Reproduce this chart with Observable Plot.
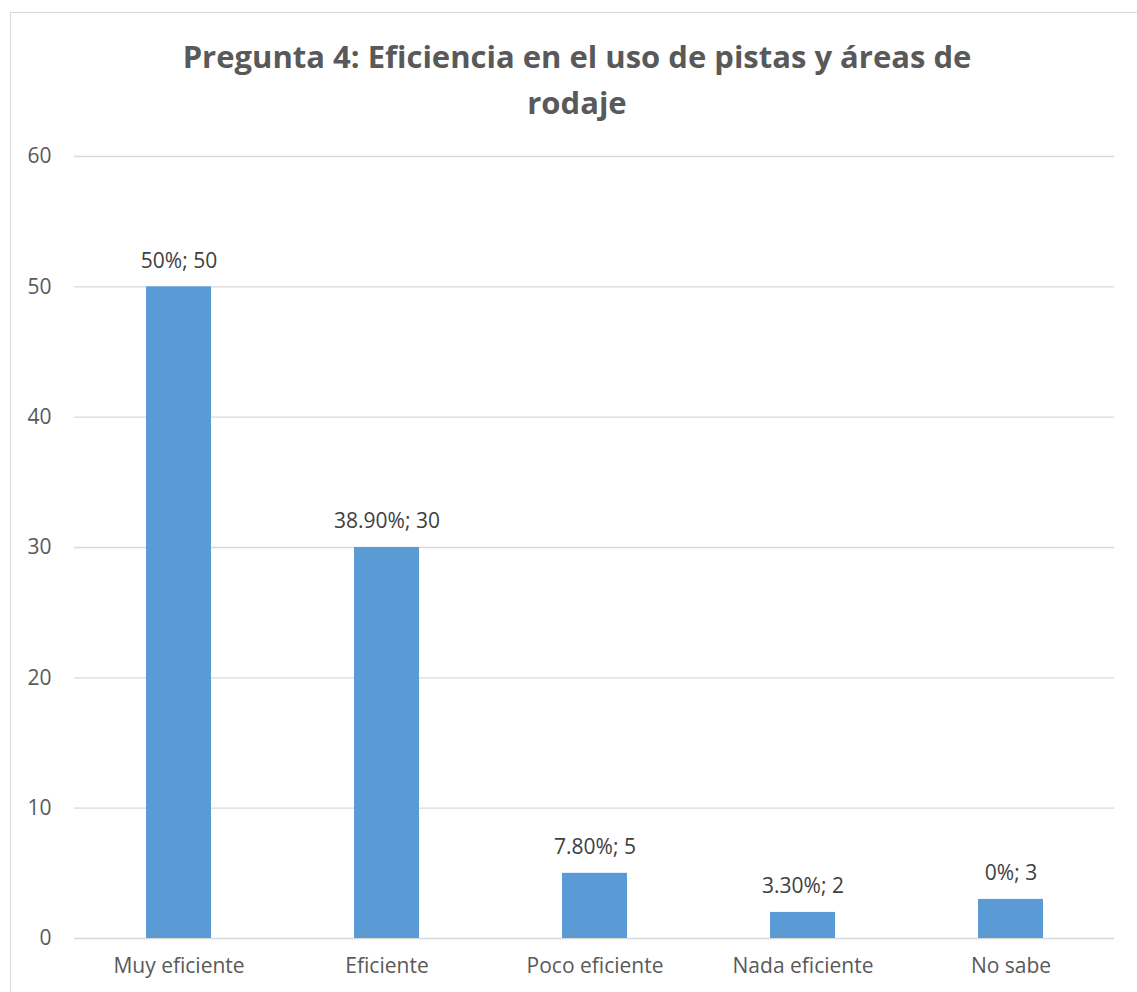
<!DOCTYPE html>
<html>
<head>
<meta charset="utf-8">
<script src="https://cdn.jsdelivr.net/npm/d3@7"></script>
<script src="https://cdn.jsdelivr.net/npm/@observablehq/plot@0.6"></script>
<style>
  html, body { margin: 0; padding: 0; background: #fff; }
  body { width: 1137px; height: 992px; overflow: hidden; position: relative; font-family: "Open Sans", sans-serif; }
  #frame { position: absolute; left: 10px; top: 12px; width: 1140px; height: 1000px; border: 1px solid #d9d9d9; box-sizing: border-box; }
  #title { position: absolute; left: 16px; top: 33px; width: 1122px; text-align: center; font-weight: bold; font-size: 31px; line-height: 46px; color: #595959; }
  #chart { position: absolute; left: 0; top: 130px; }
</style>
</head>
<body>
<div id="frame"></div>
<div id="title">Pregunta 4: Eficiencia en el uso de pistas y áreas de<br>rodaje</div>
<div id="chart"></div>
<script>
const categories = ["Muy eficiente", "Eficiente", "Poco eficiente", "Nada eficiente", "No sabe"];
const counts = [50, 30, 5, 2, 3];
const percents = ["50%", "38.90%", "7.80%", "3.30%", "0%"];
const yTicks = [0, 10, 20, 30, 40, 50, 60];

const data = categories.map((c, i) => ({cat: c, value: counts[i], label: `${percents[i]}; ${counts[i]}`}));

const chart = Plot.plot({
  width: 1137,
  height: 862,
  marginLeft: 74,
  marginRight: 23,
  marginTop: 26,
  marginBottom: 54,
  style: {fontFamily: "Open Sans, sans-serif", fontSize: "21px", color: "#595959", background: "transparent"},
  x: {domain: categories, paddingInner: 0.6875, paddingOuter: 0.34375, label: null},
  y: {domain: [0, 60], ticks: yTicks, label: null},
  marks: [
    Plot.ruleY(yTicks, {stroke: "#d9d9d9", strokeWidth: 1.3, strokeOpacity: 1}),
    Plot.barY(data, {x: "cat", y: "value", fill: "#5b9bd5"}),
    Plot.text(data, {x: "cat", y: "value", text: "label", dy: -26, fill: "#404040", fontSize: 21}),
    Plot.axisY(yTicks, {tickSize: 0, tickPadding: 23, fontSize: 21, fill: "#595959"}),
    Plot.axisX({tickSize: 0, tickPadding: 20, fontSize: 21, fill: "#595959"})
  ]
});
document.getElementById("chart").appendChild(chart);
</script>
</body>
</html>
